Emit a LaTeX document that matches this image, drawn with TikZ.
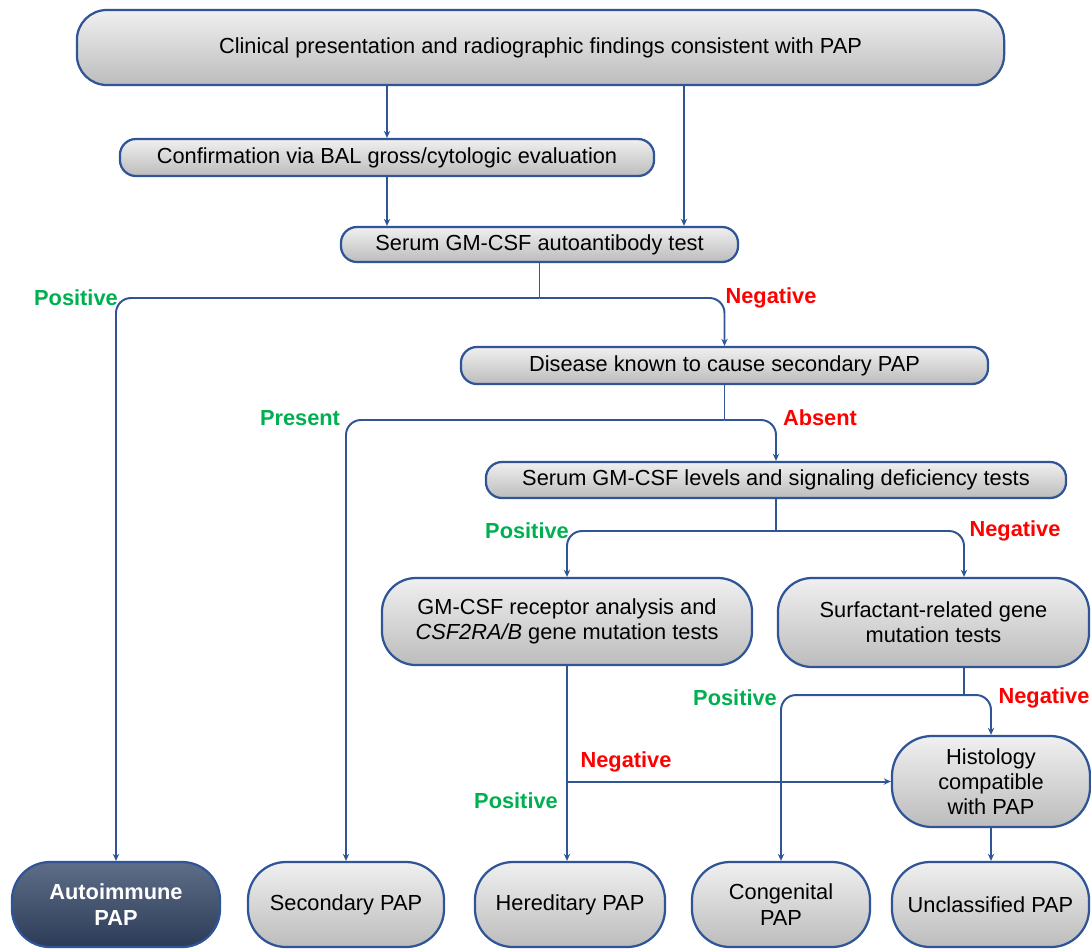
\documentclass[tikz,border=0pt]{standalone}
\usepackage{fontspec}
\setmainfont{Liberation Sans}
\usetikzlibrary{arrows.meta, positioning}
\definecolor{linkblue}{RGB}{47, 85, 151}
\definecolor{boxtop}{RGB}{240, 240, 240}
\definecolor{boxmid}{RGB}{226, 226, 226}
\definecolor{boxbottom}{RGB}{188, 188, 188}
\definecolor{darktop}{RGB}{94, 110, 136}
\definecolor{darkbottom}{RGB}{44, 60, 88}
\definecolor{posgreen}{RGB}{0, 176, 80}
\definecolor{negred}{RGB}{255, 0, 0}

\begin{document}
\begin{tikzpicture}[
  x = 0.025cm, y = -0.025cm,
  every node/.style = {font=\fontsize{15.5}{18}\selectfont},
  box/.style    = {rectangle, rounded corners=#1, draw=linkblue, line width=1.6pt,
                   top color=boxtop, middle color=boxmid, bottom color=boxbottom,
                   align=center, inner sep=0pt},
  endbox/.style = {box=0.95cm, minimum height=2.125cm},
  darkbox/.style = {endbox, top color=darktop, middle color=darktop!60!darkbottom,
                   bottom color=darkbottom, text=white,
                   font=\fontsize{15.5}{18}\selectfont\bfseries},
  yeslabel/.style = {text=posgreen, font=\fontsize{15.5}{18}\selectfont\bfseries},
  nolabel/.style  = {text=negred, font=\fontsize{15.5}{18}\selectfont\bfseries},
  link/.style   = {draw=linkblue, line width=1.4pt, rounded corners=0.375cm},
  arr/.style    = {link, -{Stealth[length=5pt, width=4.5pt]}}
]
\useasboundingbox (0,0) rectangle (1091,950);

\node[box=0.75cm, minimum width=23.175cm, minimum height=1.875cm]
  (clinical) at (540.5,47.5) {Clinical presentation and radiographic findings consistent with PAP};
\node[box=0.4cm, minimum width=13.35cm, minimum height=0.925cm]
  (bal) at (387,157.5) {Confirmation via BAL gross/cytologic evaluation};
\node[box=0.4cm, minimum width=9.925cm, minimum height=0.875cm]
  (autoab) at (539.5,244.5) {Serum GM-CSF autoantibody test};
\node[box=0.4cm, minimum width=13.175cm, minimum height=0.925cm]
  (disease) at (724.5,365.5) {Disease known to cause secondary PAP};
\node[box=0.4cm, minimum width=14.5cm, minimum height=0.9cm]
  (signal) at (776,480) {Serum GM-CSF levels and signaling deficiency tests};
\node[box=0.85cm, minimum width=9.25cm, minimum height=2.175cm]
  (receptor) at (567,621.5) {GM-CSF receptor analysis and\\\textit{CSF2RA/B} gene mutation tests};
\node[box=0.85cm, minimum width=7.775cm, minimum height=2.225cm]
  (surfactant) at (933.5,622.5) {Surfactant-related gene\\mutation tests};
\node[box=1cm, minimum width=4.95cm, minimum height=2.275cm]
  (histology) at (991,781.5) {Histology\\compatible\\with PAP};

\node[darkbox, minimum width=5.2cm]   (autoimmune)   at (116,904.5)   {Autoimmune\\PAP};
\node[endbox, minimum width=4.9cm]    (secondary)    at (346,904.5)   {Secondary PAP};
\node[endbox, minimum width=4.75cm]   (hereditary)   at (570,904.5)   {Hereditary PAP};
\node[endbox, minimum width=4.45cm]   (congenital)   at (781,904.5)   {Congenital\\PAP};
\node[endbox, minimum width=4.925cm]  (unclassified) at (990.5,904.5) {Unclassified PAP};

\coordinate (tap)    at (684,0);
\coordinate (surfx)  at (964,0);
\coordinate (split1) at (539.5,298);
\coordinate (split2) at (724.5,420);
\coordinate (split3) at (776,531);
\coordinate (split4) at (964,695);

\node[yeslabel] (pos_autoab)   at (76,298)   {Positive};
\node[nolabel]  (neg_autoab)   at (771,298)  {Negative};
\node[yeslabel] (present)      at (300,418)  {Present};
\node[nolabel]  (absent)       at (820,418)  {Absent};
\node[yeslabel] (pos_signal)   at (527,531)  {Positive};
\node[nolabel]  (neg_signal)   at (1015,531) {Negative};
\node[yeslabel] (pos_surf)     at (735,698)  {Positive};
\node[nolabel]  (neg_surf)     at (1044,698) {Negative};
\node[nolabel]  (neg_receptor) at (626,762)  {Negative};
\node[yeslabel] (pos_receptor) at (516,801)  {Positive};

\draw[arr] (clinical.south -| bal.north) -- (bal.north);
\draw[arr] (clinical.south -| tap) -- (autoab.north -| tap);
\draw[arr] (bal.south) -- (autoab.north -| bal.south);
\draw[link] (autoab.south) -- (split1);
\draw[arr] (split1) -| (autoimmune.north);
\draw[arr] (split1) -| (disease.north);
\draw[link] (disease.south) -- (split2);
\draw[arr] (split2) -| (secondary.north);
\draw[arr] (split2) -| (signal.north);
\draw[link] (signal.south) -- (split3);
\draw[arr] (split3) -| (receptor.north);
\draw[arr] (split3) -| (surfactant.north -| surfx);
\draw[arr] (receptor.south) -- (hereditary.north -| receptor.south);
\draw[arr] (receptor.south |- histology.west) -- (histology.west);
\draw[link] (surfactant.south -| surfx) -- (split4);
\draw[arr] (split4) -| (congenital.north);
\draw[arr] (split4) -| (histology.north);
\draw[arr] (histology.south) -- (unclassified.north -| histology.south);
\end{tikzpicture}
\end{document}
